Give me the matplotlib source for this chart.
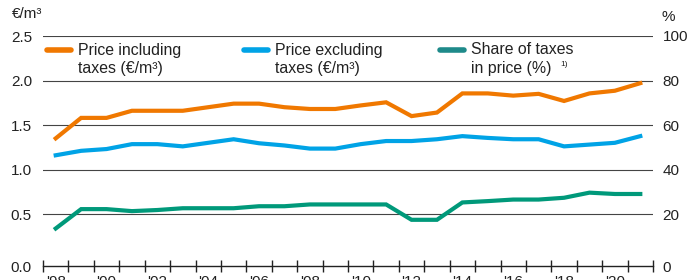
import matplotlib
matplotlib.use("Agg")
import matplotlib.pyplot as plt
from matplotlib.lines import Line2D

plt.rcParams['font.family'] = ['Liberation Sans', 'DejaVu Sans']

years = list(range(1998, 2022))
price_incl = [1.35, 1.58, 1.58, 1.66, 1.66, 1.66, 1.70, 1.74, 1.74, 1.70, 1.68, 1.68,
              1.72, 1.755, 1.60, 1.64, 1.855, 1.855, 1.83, 1.85, 1.77, 1.855, 1.885, 1.97]
price_excl = [1.16, 1.21, 1.23, 1.285, 1.285, 1.26, 1.30, 1.34, 1.295, 1.27, 1.235, 1.235,
              1.285, 1.32, 1.32, 1.34, 1.375, 1.355, 1.34, 1.34, 1.26, 1.28, 1.30, 1.375]
tax_share = [13.5, 22.2, 22.2, 21.3, 21.8, 22.6, 22.6, 22.6, 23.5, 23.5, 24.3, 24.3,
             24.3, 24.3, 17.4, 17.4, 25.2, 25.8, 26.5, 26.5, 27.3, 29.6, 29.0, 29.0]

left_ticks = [0.5, 1.0, 1.5, 2.0, 2.5]
right_ticks = [20, 40, 60, 80, 100]
year_labels = ["'98", "'00", "'02", "'04", "'06", "'08", "'10", "'12", "'14", "'16", "'18", "'20"]
legend_labels = [("Price including", "taxes (€/m³)"),
                 ("Price excluding", "taxes (€/m³)"),
                 ("Share of taxes", "in price (%)")]

c_orange = '#f07800'
c_blue = '#00a3e6'
c_green = '#00997a'
c_teal = '#1e8a8a'

fig = plt.figure(figsize=(6.87, 2.8), dpi=100)
ax = fig.add_axes([43/687, 1 - 266/280, 610/687, 230/280])
ax2 = ax.twinx()

bottom_l = -0.084
ax.set_ylim(bottom_l, 2.5)
ax2.set_ylim(bottom_l * 40, 100)
ax.set_xlim(1997.5, 2021.5)

for a in (ax, ax2):
    for s in ('top', 'left', 'right', 'bottom'):
        a.spines[s].set_visible(False)
ax.spines['bottom'].set_visible(True)
ax.spines['bottom'].set_color('#222222')
ax.spines['bottom'].set_linewidth(1.0)

ax.set_yticks([bottom_l] + left_ticks)
ax.set_yticklabels(['0.0'] + ['%.1f' % t for t in left_ticks])
ax2.set_yticks([bottom_l * 40] + right_ticks)
ax2.set_yticklabels(['0'] + [str(t) for t in right_ticks])
ax.tick_params(axis='y', length=0, pad=8, labelsize=11, colors='#222222')
ax2.tick_params(axis='y', length=0, pad=7, labelsize=11, colors='#222222')

for t in left_ticks:
    ax.axhline(t, color='#444444', lw=0.8, zorder=1)

# x axis ticks at year boundaries, labels at even years
ax.set_xticks([y - 0.5 for y in years] + [years[-1] + 0.5])
ax.set_xticklabels([])
ax.tick_params(axis='x', which='major', direction='inout', length=8, width=1.0, color='#222222')
ax.set_xticks(list(range(1998, 2021, 2)), minor=True)
ax.set_xticklabels(year_labels, minor=True)
ax.tick_params(axis='x', which='minor', length=0, pad=6.5, labelsize=11, colors='#222222')

ax.plot(years, price_incl, color=c_orange, lw=3.0, solid_joinstyle='miter', zorder=3)
ax.plot(years, price_excl, color=c_blue, lw=3.0, solid_joinstyle='miter', zorder=3)
ax2.plot(years, tax_share, color=c_green, lw=3.0, solid_joinstyle='miter', zorder=3)

# unit labels
fig.text(12/687, 1 - 14/280, '€/m³', fontsize=11, ha='left', va='center', color='#222222')
fig.text(662/687, 1 - 17/280, '%', fontsize=11, ha='left', va='center', color='#222222')

# legend
hx = [45, 242, 438]
colors = [c_orange, c_blue, c_teal]
for x0, col, (l1, l2) in zip(hx, colors, legend_labels):
    fig.add_artist(Line2D([(x0 + 2) / 687, (x0 + 26) / 687], [1 - 50/280, 1 - 50/280],
                          color=col, lw=4.0, solid_capstyle='round', transform=fig.transFigure))
    fig.text((x0 + 33) / 687, 1 - 50/280, l1, fontsize=11.4, ha='left', va='center',
             color='#222222')
    fig.text((x0 + 33) / 687, 1 - 69/280, l2, fontsize=11.4, ha='left', va='center',
             color='#222222')
fig.text(560/687, 1 - 64/280, '1)', fontsize=6, ha='left', va='center', color='#222222')

fig.savefig('out.png', dpi=100)
